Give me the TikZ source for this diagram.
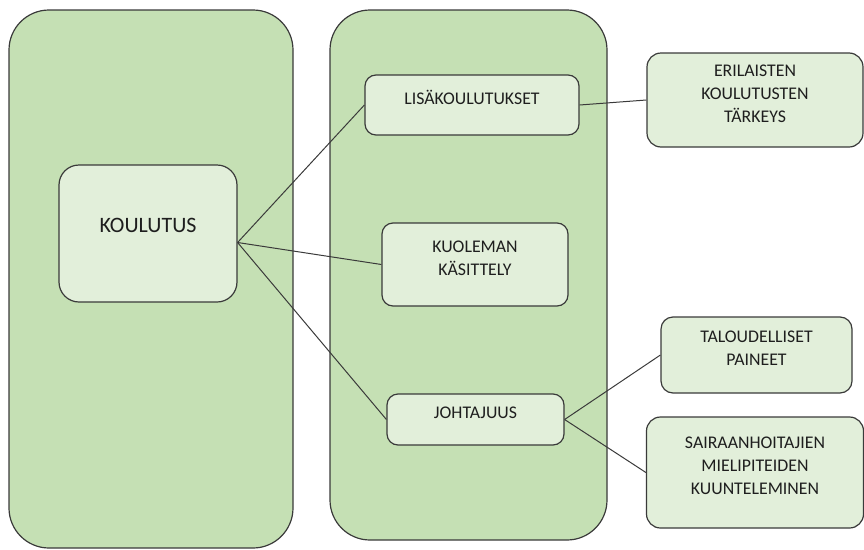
\documentclass[tikz,border=0pt]{standalone}
\usepackage{fontspec}
\setmainfont{Carlito}
\usepackage{xcolor}
\usepackage{tikz}

\newcommand{\boxtext}[1]{\raisebox{1pt}[0pt][0pt]{\begin{tabular}{@{}c@{}}#1\end{tabular}}}

\begin{document}
\begin{tikzpicture}[
  x=1pt,y=-1pt,
  frame/.style={draw=edge,line width=1.2pt,fill=outer,rounded corners=40pt,inner sep=0pt},
  item/.style={draw=edge,line width=1.2pt,fill=inner,rounded corners=#1,inner sep=0pt,
    text=ink,font=\fontsize{17.8}{23}\selectfont},
  item/.default=11pt,
  link/.style={draw=edge,line width=1pt}]

  \definecolor{outer}{HTML}{C5E0B4}
  \definecolor{inner}{HTML}{E2EFDA}
  \definecolor{edge}{HTML}{3A3A3A}
  \definecolor{ink}{HTML}{1E1E1E}

  \useasboundingbox (0,0) rectangle (864,549);

  % ------------------- columns ----------------------
  \node[frame,minimum width=284pt,minimum height=538pt] (leftcol) at (151,279) {};
  \node[frame,minimum width=277pt,minimum height=530pt] (midcol) at (468.5,275) {};

  % ------------------- boxes ----------------------
  \node[item=20pt,minimum width=178pt,minimum height=137pt,font=\fontsize{22}{26}\selectfont]
    (koulutus) at (148,233.5) {\boxtext{KOULUTUS}};

  \node[item,minimum width=214pt,minimum height=60pt]  (lisa)      at (472,105)   {\boxtext{LISÄKOULUTUKSET}};
  \node[item,minimum width=186pt,minimum height=83pt]  (kuolema)   at (475,264.5) {\boxtext{KUOLEMAN\\KÄSITTELY}};
  \node[item,minimum width=177pt,minimum height=51pt]  (johtajuus) at (475.5,419.5) {\boxtext{JOHTAJUUS}};

  \node[item=14pt,minimum width=216pt,minimum height=94pt]  (erilaiset) at (755,100)   {\boxtext{ERILAISTEN\\KOULUTUSTEN\\TÄRKEYS}};
  \node[item=12pt,minimum width=191pt,minimum height=76pt]  (talous)    at (756.5,355) {\boxtext{TALOUDELLISET\\PAINEET}};
  \node[item=14pt,minimum width=217pt,minimum height=111pt] (hoitajat)  at (755,472.5) {\boxtext{SAIRAANHOITAJIEN\\MIELIPITEIDEN\\KUUNTELEMINEN}};

  % ------------------- links ----------------------
  \coordinate (hub) at ([yshift=-9pt]koulutus.east);
  \draw[link] (hub) -- (lisa.west);
  \draw[link] (hub) -- (kuolema.west);
  \draw[link] (hub) -- (johtajuus.west);

  \draw[link] (lisa.east) -- (erilaiset.west);
  \draw[link] (johtajuus.east) -- (talous.west);
  \draw[link] (johtajuus.east) -- (hoitajat.west);
\end{tikzpicture}
\end{document}
